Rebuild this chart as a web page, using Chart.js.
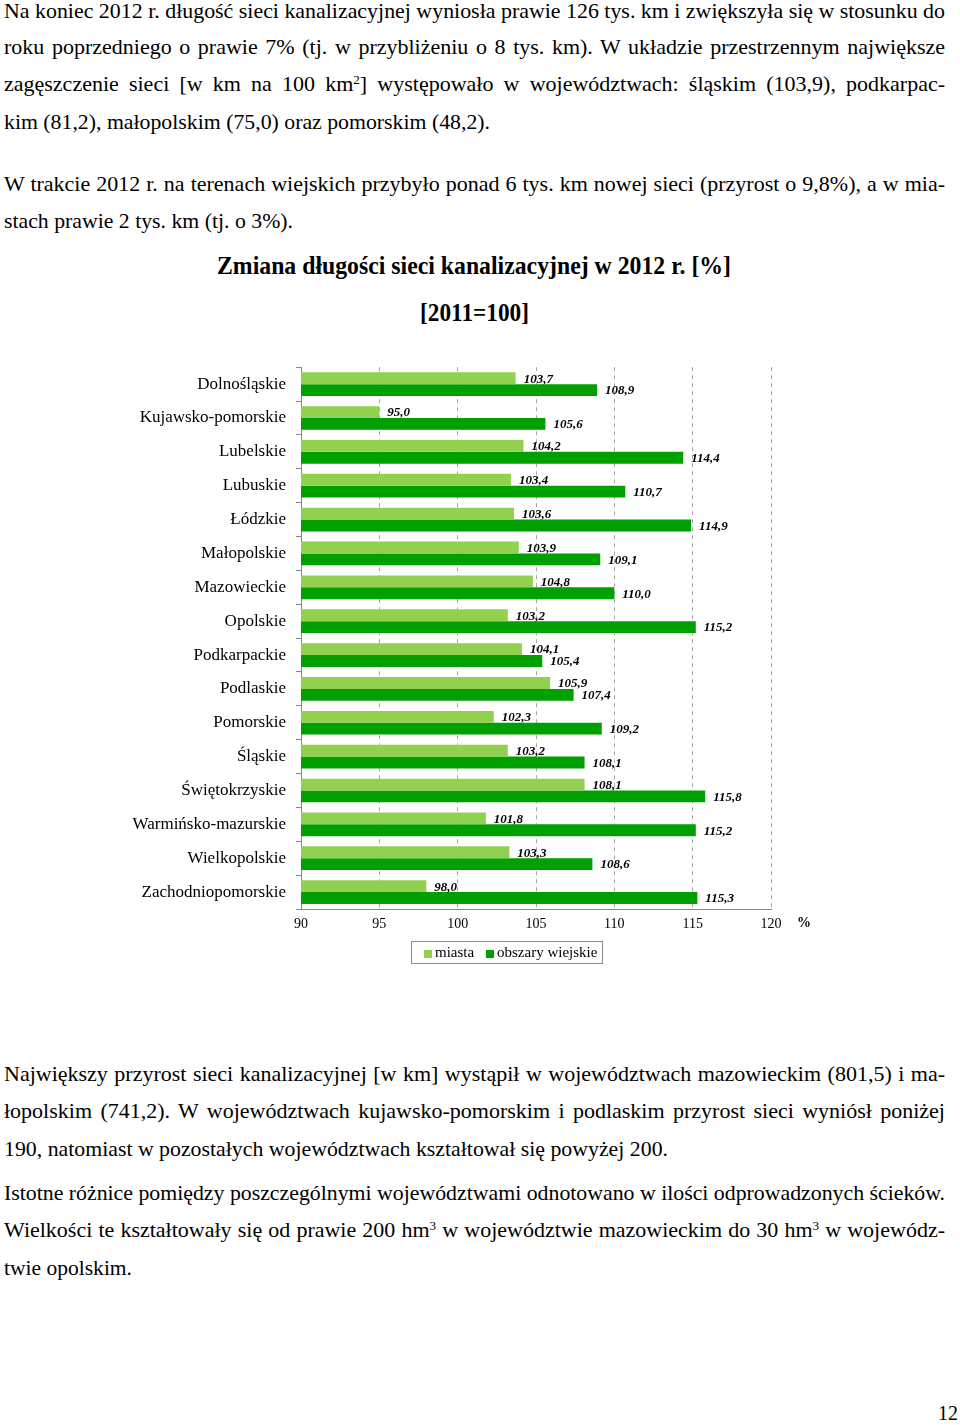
<!DOCTYPE html>
<html lang="pl">
<head>
<meta charset="utf-8">
<script src="https://cdn.jsdelivr.net/npm/chart.js@4.4.0/dist/chart.umd.min.js"></script>
<style>
  html, body { margin: 0; padding: 0; background: #fff; }
  body { width: 960px; height: 1425px; position: relative; overflow: hidden; color: #000;
         font-family: "Liberation Serif", serif; }
  .ln { position: absolute; white-space: nowrap; font-family: "Liberation Serif", serif;
        font-size: 22px; line-height: 24px; transform-origin: 0 50%; }
  .ln sup { font-size: 0.6em; line-height: 0; vertical-align: 0.55em; }
  .bold { font-weight: bold; font-size: 25px; }
  #wrap { position: absolute; left: 0; top: 347px; width: 960px; height: 608px; }
  #pct { position: absolute; left: 797px; top: 915px; font-size: 14px; font-weight: bold;
         font-family: "Liberation Serif", serif; }
  #legend { position: absolute; left: 411px; top: 941px; width: 190px; height: 21px;
            border: 1px solid #8c8c8c; font-size: 15px; line-height: 21px;
            font-family: "Liberation Serif", serif; }
  #legend span { position: absolute; top: 0; }
  #legend i { position: absolute; top: 8px; width: 8px; height: 8px; }
</style>
</head>
<body>
<div id="wrap"><canvas id="chart" width="960" height="608"></canvas></div>
<div id="pct">%</div>
<div id="legend">
  <i style="left:12px;background:#92d050"></i><span style="left:23px">miasta</span>
  <i style="left:74px;background:#00a000"></i><span style="left:85px">obszary wiejskie</span>
</div>
<script>
// dane wykresu
const categories = ['Dolnośląskie', 'Kujawsko-pomorskie', 'Lubelskie', 'Lubuskie', 'Łódzkie', 'Małopolskie',
    'Mazowieckie', 'Opolskie', 'Podkarpackie', 'Podlaskie', 'Pomorskie', 'Śląskie', 'Świętokrzyskie',
    'Warmińsko-mazurskie', 'Wielkopolskie', 'Zachodniopomorskie'];
const miasta = [103.7, 95.0, 104.2, 103.4, 103.6, 103.9, 104.8, 103.2, 104.1, 105.9, 102.3, 103.2, 108.1, 101.8, 103.3, 98.0];
const wiejskie = [108.9, 105.6, 114.4, 110.7, 114.9, 109.1, 110.0, 115.2, 105.4, 107.4, 109.2, 108.1, 115.8, 115.2, 108.6, 115.3];
const seriesNames = ['miasta', 'obszary wiejskie'];
const xTicks = [90, 95, 100, 105, 110, 115, 120];

// tekst strony: [html, x, y, szerokość, justowanie, klasa]
const pageLines = [
    ['Na koniec 2012 r. długość sieci kanalizacyjnej wyniosła prawie 126 tys. km i zwiększyła się w stosunku do', 4, 11, 941, true],
    ['roku poprzedniego o prawie 7% (tj. w przybliżeniu o 8 tys. km). W układzie przestrzennym największe', 4, 47, 941, true],
    ['zagęszczenie sieci [w km na 100 km<sup>2</sup>] występowało w województwach: śląskim (103,9), podkarpac-', 4, 84, 941, true],
    ['kim (81,2), małopolskim (75,0) oraz pomorskim (48,2).', 4, 122, 486, false],
    ['W trakcie 2012 r. na terenach wiejskich przybyło ponad 6 tys. km nowej sieci (przyrost o 9,8%), a w mia-', 4, 184, 941, true],
    ['stach prawie 2 tys. km (tj. o 3%).', 4, 221, 289, false],
    ['Zmiana długości sieci kanalizacyjnej w 2012 r. [%]', 217, 266, 514, false, 'bold'],
    ['[2011=100]', 420, 313, 109, false, 'bold'],
    ['Największy przyrost sieci kanalizacyjnej [w km] wystąpił w województwach mazowieckim (801,5) i ma-', 4, 1074, 941, true],
    ['łopolskim (741,2). W województwach kujawsko-pomorskim i podlaskim przyrost sieci wyniósł poniżej', 4, 1111, 941, true],
    ['190, natomiast w pozostałych województwach kształtował się powyżej 200.', 4, 1149, 664, false],
    ['Istotne różnice pomiędzy poszczególnymi województwami odnotowano w ilości odprowadzonych ścieków.', 4, 1193, 941, false],
    ['Wielkości te kształtowały się od prawie 200 hm<sup>3</sup> w województwie mazowieckim do 30 hm<sup>3</sup> w wojewódz-', 4, 1230, 941, true],
    ['twie opolskim.', 4, 1268, 128, false],
    ['12', 938, 1413, 20, false]
];

pageLines.forEach(([html, x, y, w, just, cls]) => {
    const d = document.createElement('div');
    d.className = 'ln' + (cls ? ' ' + cls : '');
    d.innerHTML = html;
    d.style.left = x + 'px';
    d.style.top = (y - 12) + 'px';
    document.body.appendChild(d);
    const natural = d.getBoundingClientRect().width;
    const spaces = (d.textContent.match(/ /g) || []).length;
    if (just && natural < w && spaces) {
        d.style.wordSpacing = ((w - natural) / spaces) + 'px';
    } else {
        d.style.transform = 'scaleX(' + (w / natural) + ')';
    }
});

const fmt = v => v.toFixed(1).replace('.', ',');

const barLabels = {
    id: 'barLabels',
    afterDatasetsDraw(chart) {
        const ctx = chart.ctx;
        ctx.save();
        ctx.font = 'italic bold 13px "Liberation Serif", serif';
        ctx.fillStyle = '#000';
        ctx.textBaseline = 'middle';
        ctx.textAlign = 'left';
        chart.data.datasets.forEach((ds, i) => {
            chart.getDatasetMeta(i).data.forEach((bar, j) => {
                ctx.fillText(fmt(ds.data[j]), bar.x + 8, bar.y + 1);
            });
        });
        ctx.restore();
    }
};

new Chart(document.getElementById('chart'), {
    type: 'bar',
    data: {
        labels: categories,
        datasets: [
            { label: seriesNames[0], data: miasta, backgroundColor: '#92d050', categoryPercentage: 0.7, barPercentage: 1 },
            { label: seriesNames[1], data: wiejskie, backgroundColor: '#00a000', categoryPercentage: 0.7, barPercentage: 1 }
        ]
    },
    options: {
        indexAxis: 'y',
        responsive: false,
        animation: false,
        devicePixelRatio: 1,
        layout: { padding: { top: 10, left: 0, right: 189, bottom: 16 } },
        plugins: { legend: { display: false }, tooltip: { enabled: false } },
        scales: {
            x: {
                min: xTicks[0],
                max: xTicks[xTicks.length - 1],
                afterBuildTicks: s => { s.ticks = xTicks.map(v => ({ value: v })); },
                afterFit: s => { s.height = 30; },
                ticks: { color: '#000', padding: 7, font: { family: '"Liberation Serif", serif', size: 14 } },
                grid: { color: '#a6a6a6', drawTicks: false },
                border: { color: '#868686', dash: [4, 4] }
            },
            y: {
                afterFit: s => { s.width = 301; },
                ticks: { color: '#000', padding: 10, font: { family: '"Liberation Serif", serif', size: 17 } },
                grid: { drawOnChartArea: false, offset: true, tickLength: 5, color: '#868686' },
                border: { color: '#868686' }
            }
        }
    },
    plugins: [barLabels]
});
</script>
</body>
</html>
